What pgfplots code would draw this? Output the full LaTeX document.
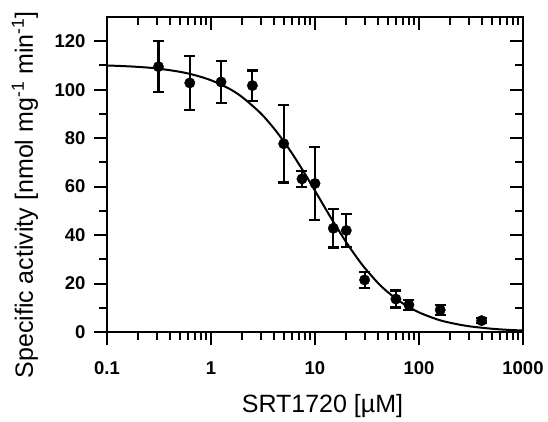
\documentclass[border=0pt]{standalone}
\usepackage{fontspec}
\setmainfont{Liberation Sans}
\usepackage{pgfplots}
\usepackage{pgfplotstable}
\pgfplotsset{compat=1.18}

% measured activity, mean and error
\pgfplotstableread{
x y e
0.3125 109.5 10.6
0.625 102.8 11.1
1.25 103.2 8.8
2.5 101.7 6.2
5 77.7 16.0
7.5 63.2 3.3
10 61.3 15.2
15 42.8 7.9
20 41.9 6.7
30 21.5 3.4
60 13.6 3.5
80 11.2 2.0
160 9.1 2.0
400 4.7 1.0
}\meas

% fitted curve
\pgfplotstableread{
x y
0.1 110.0
0.15 109.7
0.2 109.4
0.3 108.8
0.5 107.4
0.7 106.0
1 103.9
1.5 100.4
2 96.9
3 90.3
4 84.2
5 78.7
6 73.8
7 69.3
8 65.3
10 58.3
12 52.5
15 45.5
20 37.0
25 31.0
30 26.5
40 20.4
50 16.5
70 11.8
100 8.1
150 5.2
200 3.8
300 2.4
500 1.36
700 0.92
1000 0.62
}\fit

\begin{document}
\begin{tikzpicture}
\begin{axis}[
  scale only axis,
  width=416pt, height=315pt,
  xmode=log, xmin=0.1, xmax=1000,
  ymin=0, ymax=130,
  xtick={0.1,1,10,100,1000},
  ytick={0,20,40,60,80,100,120},
  minor y tick num=1,
  axis line style={line width=2.2pt},
  tick style={black, line width=2pt},
  major tick length=13pt,
  minor tick length=8pt,
  xtick pos=left, ytick pos=left,
  tick align=outside,
  xticklabels={0.1,1,10,100,1000},
  yticklabels={0,20,40,60,80,100,120},
  ticklabel style={font=\fontsize{18.5}{18.5}\selectfont\bfseries},
  xticklabel style={yshift=-13pt},
  yticklabel style={xshift=-5pt},
  xlabel={SRT1720 [µM]},
  ylabel={Specific activity [nmol mg\textsuperscript{-1} min\textsuperscript{-1}]},
  label style={font=\fontsize{25}{25}\selectfont},
  xlabel style={at={(axis description cs:0.518,-0.257)}, anchor=base},
  ylabel style={at={(axis description cs:-0.197,0.435)}, anchor=center},
]
\addplot[black, line width=2pt, smooth] table[x=x, y=y] {\fit};
\addplot[only marks, black, mark=*, mark size=5.2pt,
  error bars/.cd, y dir=both, y explicit,
  error bar style={line width=2.2pt},
  error mark options={rotate=90, mark size=5.5pt, line width=2.2pt}]
  table[x=x, y=y, y error=e] {\meas};
\end{axis}
\begin{axis}[
  scale only axis,
  width=416pt, height=315pt,
  xmode=log, xmin=0.1, xmax=1000,
  ymin=0, ymax=130,
  xtick={0.1,1,10,100,1000},
  ytick={0,20,40,60,80,100,120},
  minor y tick num=1,
  axis line style={line width=2.2pt},
  tick style={black, line width=2pt},
  major tick length=13pt,
  minor tick length=8pt,
  xtick pos=right, ytick pos=right,
  tick align=inside,
  xticklabels={}, yticklabels={},
  clip=false,
]
\addplot[draw=none] table[x=x, y=y] {\fit};
\path (rel axis cs:-0.2572,-0.273) rectangle (rel axis cs:1.0601,1.054);
\end{axis}
\end{tikzpicture}
\end{document}
